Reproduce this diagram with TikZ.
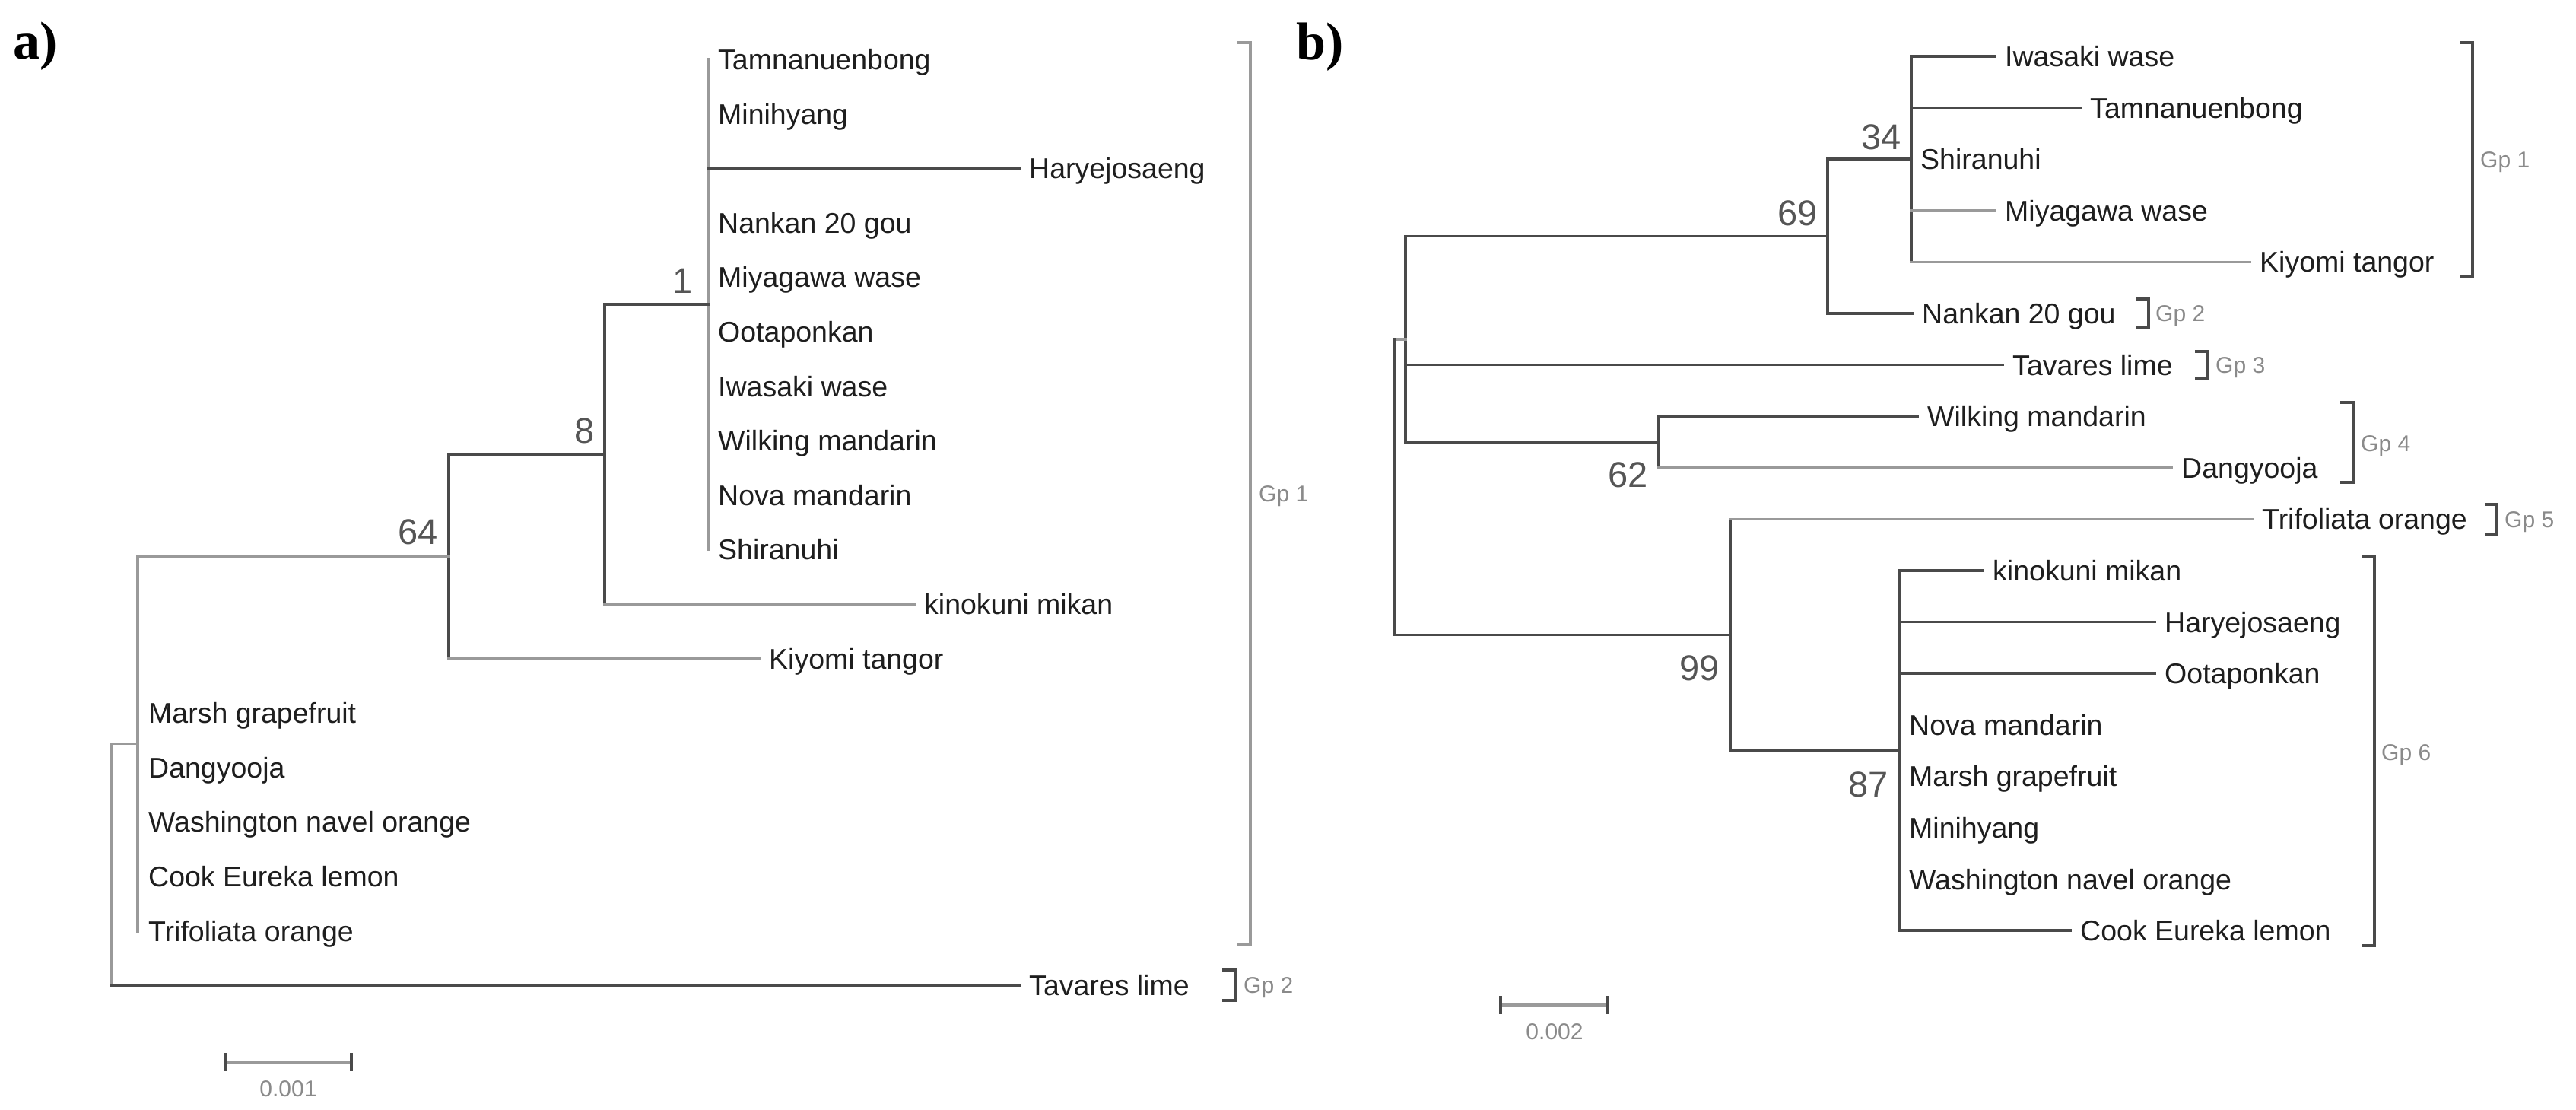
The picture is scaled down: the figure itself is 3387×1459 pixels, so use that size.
\documentclass[tikz,border=0pt]{standalone}
\usepackage{fontspec}
\setmainfont{Liberation Sans}
\newfontfamily\serifbold{Liberation Serif}
\definecolor{dk}{HTML}{4A4A4A}
\definecolor{lt}{HTML}{9A9A9A}
\definecolor{txt}{HTML}{1E1E1E}
\definecolor{bsc}{HTML}{555555}
\definecolor{gpc}{HTML}{8A8A8A}
\begin{document}
\begin{tikzpicture}[x=1pt,y=-1pt,
  br/.style={draw=dk, line width=3.5pt, line cap=rect},
  brg/.style={draw=lt, line width=3.8pt, line cap=rect},
  lab/.style={anchor=west, inner sep=0pt, text=txt, font=\fontsize{37.5pt}{40pt}\selectfont, text height=26.8pt, text depth=0pt},
  bsl/.style={inner sep=0pt, text=bsc, font=\fontsize{47pt}{50pt}\selectfont, text height=33.6pt, text depth=0pt},
  gpl/.style={anchor=west, inner sep=0pt, text=gpc, font=\fontsize{30pt}{32pt}\selectfont, text height=21.5pt, text depth=0pt},
  scl/.style={inner sep=0pt, text=gpc, font=\fontsize{30pt}{32pt}\selectfont, text height=21.5pt, text depth=0pt},
  gpb/.style={draw=dk, line width=3.5pt},
  gpbl/.style={draw=lt, line width=3.8pt},
  scb/.style={draw=lt, line width=3.8pt},
  sct/.style={draw=dk, line width=3.5pt},
  panel/.style={inner sep=0pt, font=\serifbold\bfseries\fontsize{70pt}{72pt}\selectfont}
]
\useasboundingbox (0,0) rectangle (3387,1459);

% ================= Panel a =================
\node[panel] (pa) at (47,61) {a)};

\coordinate (a-n1) at (931,400.2);
\coordinate (a-n8) at (795,597.1);
\coordinate (a-n64) at (590,731.35);
\coordinate (a-nP) at (181,977.5);
\coordinate (a-r) at (146,1136.35);

\coordinate (a-tam) at (931,78);
\coordinate (a-min) at (931,149.6);
\coordinate (a-har) at (1340,221.2);
\coordinate (a-nan) at (931,292.8);
\coordinate (a-miy) at (931,364.4);
\coordinate (a-oot) at (931,436);
\coordinate (a-iwa) at (931,507.6);
\coordinate (a-wil) at (931,579.2);
\coordinate (a-nov) at (931,650.8);
\coordinate (a-shi) at (931,722.4);
\coordinate (a-kin) at (1202,794);
\coordinate (a-kiy) at (998,865.6);
\coordinate (a-mar) at (181,937.2);
\coordinate (a-dan) at (181,1008.8);
\coordinate (a-was) at (181,1080.4);
\coordinate (a-coo) at (181,1152);
\coordinate (a-tri) at (181,1223.6);
\coordinate (a-tav) at (1340,1295.2);

\node[lab] (a-tam-l) at ([xshift=13pt]a-tam) {Tamnanuenbong};
\node[lab] (a-min-l) at ([xshift=13pt]a-min) {Minihyang};
\node[lab] (a-har-l) at ([xshift=13pt]a-har) {Haryejosaeng};
\node[lab] (a-nan-l) at ([xshift=13pt]a-nan) {Nankan 20 gou};
\node[lab] (a-miy-l) at ([xshift=13pt]a-miy) {Miyagawa wase};
\node[lab] (a-oot-l) at ([xshift=13pt]a-oot) {Ootaponkan};
\node[lab] (a-iwa-l) at ([xshift=13pt]a-iwa) {Iwasaki wase};
\node[lab] (a-wil-l) at ([xshift=13pt]a-wil) {Wilking mandarin};
\node[lab] (a-nov-l) at ([xshift=13pt]a-nov) {Nova mandarin};
\node[lab] (a-shi-l) at ([xshift=13pt]a-shi) {Shiranuhi};
\node[lab] (a-kin-l) at ([xshift=13pt]a-kin) {kinokuni mikan};
\node[lab] (a-kiy-l) at ([xshift=13pt]a-kiy) {Kiyomi tangor};
\node[lab] (a-mar-l) at ([xshift=14pt]a-mar) {Marsh grapefruit};
\node[lab] (a-dan-l) at ([xshift=14pt]a-dan) {Dangyooja};
\node[lab] (a-was-l) at ([xshift=14pt]a-was) {Washington navel orange};
\node[lab] (a-coo-l) at ([xshift=14pt]a-coo) {Cook Eureka lemon};
\node[lab] (a-tri-l) at ([xshift=14pt]a-tri) {Trifoliata orange};
\node[lab] (a-tav-l) at ([xshift=13pt]a-tav) {Tavares lime};

% node 1
\draw[brg] (a-tam) -- (a-shi);
\draw[br] (a-n1 |- a-har) -- (a-har);
% node 8
\draw[br] (a-n8 |- a-n1) -- (a-n1);
\draw[br] (a-n8 |- a-n1) -- (a-n8 |- a-kin);
\draw[brg] (a-n8 |- a-kin) -- (a-kin);
% node 64
\draw[br] (a-n64 |- a-n8) -- (a-n8);
\draw[br] (a-n64 |- a-n8) -- (a-n64 |- a-kiy);
\draw[brg] (a-n64 |- a-kiy) -- (a-kiy);
% polytomy
\draw[brg] (a-nP |- a-n64) -- (a-n64);
\draw[brg] (a-nP |- a-n64) -- (a-tri);
% root
\draw[brg] (a-r |- a-nP) -- (a-nP);
\draw[brg] (a-r |- a-nP) -- (a-r |- a-tav);
\draw[br] (a-r |- a-tav) -- (a-tav);

\node[bsl, anchor=south east] (a-b1) at ([xshift=-20pt,yshift=15pt]a-n1) {1};
\node[bsl, anchor=south east] (a-b8) at ([xshift=-13pt,yshift=14pt]a-n8) {8};
\node[bsl, anchor=south east] (a-b64) at ([xshift=-14pt,yshift=16pt]a-n64) {64};

% brackets a
\coordinate (a-g1t) at (1644,56);
\coordinate (a-g1b) at (1644,1242);
\draw[gpbl] ([xshift=-17pt]a-g1t) -- (a-g1t) -- (a-g1b) -- ([xshift=-17pt]a-g1b);
\node[gpl] (a-g1l) at (1655,649) {Gp 1};
\coordinate (a-g2t) at (1624,1275);
\coordinate (a-g2b) at (1624,1315);
\draw[gpb] ([xshift=-17pt]a-g2t) -- (a-g2t) -- (a-g2b) -- ([xshift=-17pt]a-g2b);
\node[gpl] (a-g2l) at (1635,1295) {Gp 2};

% scale a
\coordinate (a-s1) at (296,1396);
\coordinate (a-s2) at (462,1396);
\draw[scb] (a-s1) -- (a-s2);
\draw[sct] ([yshift=12pt]a-s1) -- ([yshift=-12pt]a-s1);
\draw[sct] ([yshift=12pt]a-s2) -- ([yshift=-12pt]a-s2);
\node[scl] (a-sl) at (379,1431) {0.001};

% ================= Panel b =================
\node[panel] (pb) at (1736,62) {b)};

\coordinate (b-n34) at (2513,209.2);
\coordinate (b-n69) at (2403,310.6);
\coordinate (b-n62) at (2181,581);
\coordinate (b-nX) at (1848,445.8);
\coordinate (b-n99) at (2275,834.5);
\coordinate (b-n87) at (2497,986.6);
\coordinate (b-r) at (1833,640.2);

\coordinate (b-iwa) at (2623,74);
\coordinate (b-tam) at (2735,141.6);
\coordinate (b-shi) at (2513,209.2);
\coordinate (b-miy) at (2623,276.8);
\coordinate (b-kiy) at (2958,344.4);
\coordinate (b-nan) at (2515,412);
\coordinate (b-tav) at (2633,479.6);
\coordinate (b-wil) at (2521,547.2);
\coordinate (b-dan) at (2855,614.8);
\coordinate (b-tri) at (2961,682.4);
\coordinate (b-kin) at (2607,750);
\coordinate (b-har) at (2833,817.6);
\coordinate (b-oot) at (2833,885.2);
\coordinate (b-nov) at (2497,952.8);
\coordinate (b-mar) at (2497,1020.4);
\coordinate (b-min) at (2497,1088);
\coordinate (b-was) at (2497,1155.6);
\coordinate (b-coo) at (2722,1223.2);

\node[lab] (b-iwa-l) at ([xshift=13pt]b-iwa) {Iwasaki wase};
\node[lab] (b-tam-l) at ([xshift=13pt]b-tam) {Tamnanuenbong};
\node[lab] (b-shi-l) at ([xshift=12pt]b-shi) {Shiranuhi};
\node[lab] (b-miy-l) at ([xshift=13pt]b-miy) {Miyagawa wase};
\node[lab] (b-kiy-l) at ([xshift=13pt]b-kiy) {Kiyomi tangor};
\node[lab] (b-nan-l) at ([xshift=12pt]b-nan) {Nankan 20 gou};
\node[lab] (b-tav-l) at ([xshift=13pt]b-tav) {Tavares lime};
\node[lab] (b-wil-l) at ([xshift=13pt]b-wil) {Wilking mandarin};
\node[lab] (b-dan-l) at ([xshift=13pt]b-dan) {Dangyooja};
\node[lab] (b-tri-l) at ([xshift=13pt]b-tri) {Trifoliata orange};
\node[lab] (b-kin-l) at ([xshift=13pt]b-kin) {kinokuni mikan};
\node[lab] (b-har-l) at ([xshift=13pt]b-har) {Haryejosaeng};
\node[lab] (b-oot-l) at ([xshift=13pt]b-oot) {Ootaponkan};
\node[lab] (b-nov-l) at ([xshift=13pt]b-nov) {Nova mandarin};
\node[lab] (b-mar-l) at ([xshift=13pt]b-mar) {Marsh grapefruit};
\node[lab] (b-min-l) at ([xshift=13pt]b-min) {Minihyang};
\node[lab] (b-was-l) at ([xshift=13pt]b-was) {Washington navel orange};
\node[lab] (b-coo-l) at ([xshift=13pt]b-coo) {Cook Eureka lemon};

% node 34
\draw[br] (b-n34 |- b-iwa) -- (b-n34 |- b-kiy);
\draw[br] (b-n34 |- b-iwa) -- (b-iwa);
\draw[br] (b-n34 |- b-tam) -- (b-tam);
\draw[brg] (b-n34 |- b-miy) -- (b-miy);
\draw[brg] (b-n34 |- b-kiy) -- (b-kiy);
% node 69
\draw[br] (b-n69 |- b-n34) -- (b-n34);
\draw[br] (b-n69 |- b-n34) -- (b-n69 |- b-nan);
\draw[br] (b-n69 |- b-nan) -- (b-nan);
% node X
\draw[br] (b-nX |- b-n69) -- (b-n69);
\draw[br] (b-nX |- b-n69) -- (b-nX |- b-n62);
\draw[br] (b-nX |- b-tav) -- (b-tav);
\draw[br] (b-nX |- b-n62) -- (b-n62);
% node 62
\draw[br] (b-n62 |- b-wil) -- (b-n62 |- b-dan);
\draw[br] (b-n62 |- b-wil) -- (b-wil);
\draw[brg] (b-n62 |- b-dan) -- (b-dan);
% root
\draw[brg] (b-r |- b-nX) -- (b-nX);
\draw[br] (b-r |- b-nX) -- (b-r |- b-n99);
\draw[br] (b-r |- b-n99) -- (b-n99);
% node 99
\draw[br] (b-n99 |- b-tri) -- (b-n99 |- b-n87);
\draw[brg] (b-n99 |- b-tri) -- (b-tri);
\draw[br] (b-n99 |- b-n87) -- (b-n87);
% node 87
\draw[br] (b-n87 |- b-kin) -- (b-n87 |- b-coo);
\draw[br] (b-n87 |- b-kin) -- (b-kin);
\draw[br] (b-n87 |- b-har) -- (b-har);
\draw[br] (b-n87 |- b-oot) -- (b-oot);
\draw[br] (b-n87 |- b-coo) -- (b-coo);

\node[bsl, anchor=south east] (b-b34) at ([xshift=-13pt,yshift=13pt]b-n34) {34};
\node[bsl, anchor=south east] (b-b69) at ([xshift=-13pt,yshift=14pt]b-n69) {69};
\node[bsl, anchor=north east] (b-b62) at ([xshift=-14pt,yshift=-26pt]b-n62) {62};
\node[bsl, anchor=north east] (b-b99) at ([xshift=-14pt,yshift=-26pt]b-n99) {99};
\node[bsl, anchor=north east] (b-b87) at ([xshift=-14pt,yshift=-27pt]b-n87) {87};

% brackets b
\coordinate (b-g1t) at (3251,56);
\coordinate (b-g1b) at (3251,364);
\draw[gpb] ([xshift=-17pt]b-g1t) -- (b-g1t) -- (b-g1b) -- ([xshift=-17pt]b-g1b);
\node[gpl] (b-g1l) at (3261,210) {Gp 1};
\coordinate (b-g2t) at (2825,393);
\coordinate (b-g2b) at (2825,431);
\draw[gpb] ([xshift=-17pt]b-g2t) -- (b-g2t) -- (b-g2b) -- ([xshift=-17pt]b-g2b);
\node[gpl] (b-g2l) at (2834,412) {Gp 2};
\coordinate (b-g3t) at (2903,462);
\coordinate (b-g3b) at (2903,498);
\draw[gpb] ([xshift=-17pt]b-g3t) -- (b-g3t) -- (b-g3b) -- ([xshift=-17pt]b-g3b);
\node[gpl] (b-g3l) at (2913,480) {Gp 3};
\coordinate (b-g4t) at (3094,529);
\coordinate (b-g4b) at (3094,634);
\draw[gpb] ([xshift=-17pt]b-g4t) -- (b-g4t) -- (b-g4b) -- ([xshift=-17pt]b-g4b);
\node[gpl] (b-g4l) at (3104,583) {Gp 4};
\coordinate (b-g5t) at (3283,663);
\coordinate (b-g5b) at (3283,702);
\draw[gpb] ([xshift=-16pt]b-g5t) -- (b-g5t) -- (b-g5b) -- ([xshift=-16pt]b-g5b);
\node[gpl] (b-g5l) at (3293,683) {Gp 5};
\coordinate (b-g6t) at (3122,731);
\coordinate (b-g6b) at (3122,1243);
\draw[gpb] ([xshift=-17pt]b-g6t) -- (b-g6t) -- (b-g6b) -- ([xshift=-17pt]b-g6b);
\node[gpl] (b-g6l) at (3131,989) {Gp 6};

% scale b
\coordinate (b-s1) at (1973,1321);
\coordinate (b-s2) at (2114,1321);
\draw[scb] (b-s1) -- (b-s2);
\draw[sct] ([yshift=12pt]b-s1) -- ([yshift=-12pt]b-s1);
\draw[sct] ([yshift=12pt]b-s2) -- ([yshift=-12pt]b-s2);
\node[scl] (b-sl) at (2044,1356) {0.002};
\end{tikzpicture}
\end{document}
